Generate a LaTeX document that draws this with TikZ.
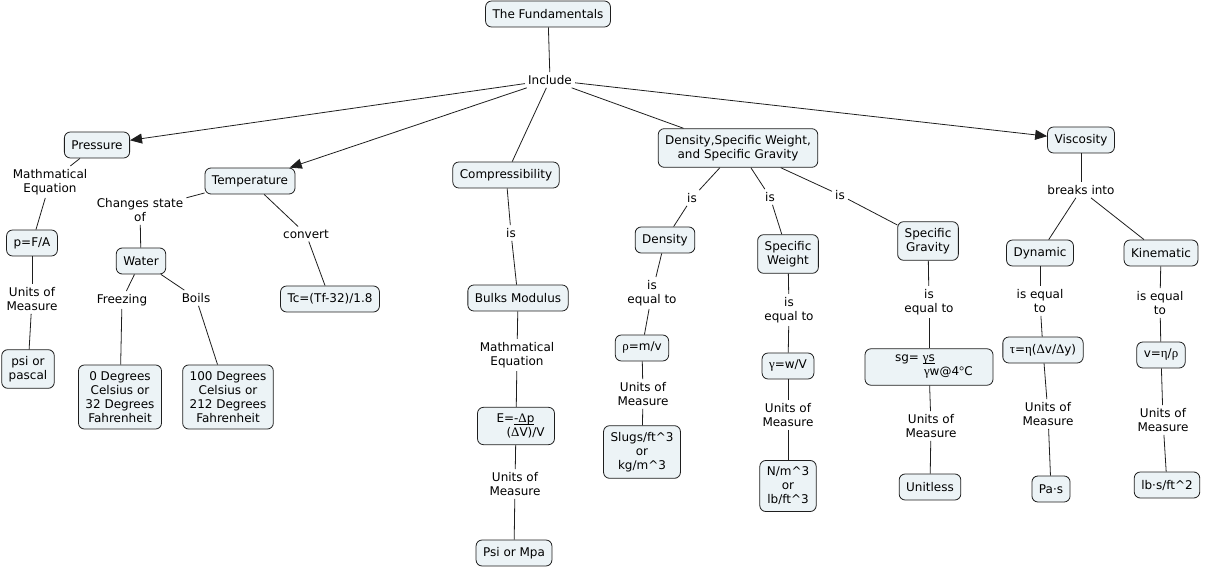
\documentclass[tikz,border=0pt]{standalone}
\usepackage{fontspec}
\setmainfont{DejaVu Sans}
\newfontfamily\gk[Scale=1.08]{Liberation Serif}
\usetikzlibrary{arrows.meta}
\definecolor{cfill}{RGB}{236,243,246}
\definecolor{cline}{RGB}{30,30,30}
\newcommand{\myul}[1]{\setbox0\hbox{#1}\rlap{\rule[-1.6pt]{\wd0}{0.6pt}}\box0}
\tikzset{
  concept/.style={draw=cline, line width=0.8pt, fill=cfill, rounded corners=6pt,
    inner xsep=7pt, inner ysep=6.5pt, minimum height=26pt, align=center},
  lbl/.style={inner sep=3pt, align=center},
  link/.style={draw=cline, line width=0.8pt},
  arr/.style={link, -{Triangle[length=12pt,width=10pt]}}
}
\begin{document}
\begin{tikzpicture}[x=1pt,y=-1pt,font=\fontsize{12}{14}\selectfont]
\useasboundingbox (0,0) rectangle (1205,569);
% top
\node[concept] (fund) at (548,14) {The Fundamentals};
\node[lbl] (incl) at (550,80) {Include};
% Pressure
\node[concept] (pres) at (97,145) {Pressure};
\node[lbl] (pmeq) at (50,182) {Mathmatical\\Equation};
\node[concept] (pfa) at (32,243) {p=F/A};
\node[lbl] (pum) at (32,299) {Units of\\Measure};
\node[concept] (psi) at (28,369) {psi or\\pascal};
% Temperature
\node[concept] (temp) at (250,181) {Temperature};
\node[lbl] (tchg) at (140,210) {Changes state\\of};
\node[concept] (water) at (141,261) {Water};
\node[lbl] (frz) at (122,300) {Freezing};
\node[lbl] (boil) at (196,298) {Boils};
\node[concept] (zero) at (120,397) {0 Degrees\\Celsius or\\32 Degrees\\Fahrenheit};
\node[concept] (hund) at (228,397) {100 Degrees\\Celsius or\\212 Degrees\\Fahrenheit};
\node[lbl] (conv) at (306,234) {convert};
\node[concept] (tc) at (330,299) {Tc=(Tf-32)/1.8};
% Compressibility
\node[concept] (comp) at (506,175) {Compressibility};
\node[lbl] (cis) at (511,233) {is};
\node[concept] (bulk) at (518,298) {Bulks Modulus};
\node[lbl] (bmeq) at (517,355) {Mathmatical\\Equation};
\node[concept, text width=63pt, inner xsep=7pt, align=left] (emod) at (516,426)
  {\hspace*{12pt}E=\myul{-{\gk Δ}p}\\\hspace*{22pt}({\gk Δ}V)/V};
\node[lbl] (eum) at (515,484) {Units of\\Measure};
\node[concept] (mpa) at (514,553) {Psi or Mpa};
% Density group
\node[concept] (dsg) at (738,148) {Density,Specific Weight,\\and Specific Gravity};
\node[lbl] (dis1) at (692,198) {is};
\node[lbl] (dis2) at (770,197) {is};
\node[lbl] (dis3) at (840,195) {is};
\node[concept] (dens) at (665,240) {Density};
\node[lbl] (deq) at (652,293) {is\\equal to};
\node[concept] (rho) at (642,348) {{\gk ρ}=m/v};
\node[lbl] (rum) at (643,394) {Units of\\Measure};
\node[concept] (slug) at (642,452) {Slugs/ft\textasciicircum3\\or\\kg/m\textasciicircum3};
\node[concept] (sw) at (788,254) {Specific\\Weight};
\node[lbl] (sweq) at (789,310) {is\\equal to};
\node[concept] (gam) at (788,366) {{\gk γ}=w/V};
\node[lbl] (gum) at (788,415) {Units of\\Measure};
\node[concept] (nm) at (788,486) {N/m\textasciicircum3\\or\\lb/ft\textasciicircum3};
\node[concept] (sgr) at (928,241) {Specific\\Gravity};
\node[lbl] (sgeq) at (929,302) {is\\equal to};
\node[concept, text width=114pt, align=left] (sg) at (929,367)
  {\hspace*{23pt}sg= \myul{{\gk γ}s}\\\hspace*{52pt}{\gk γ}w@4{\gk °}C};
\node[lbl] (sgum) at (931,426) {Units of\\Measure};
\node[concept] (unitless) at (930,487) {Unitless};
% Viscosity
\node[concept] (visc) at (1081,140) {Viscosity};
\node[lbl] (brk) at (1081,190) {breaks into};
\node[concept] (dyn) at (1040,253) {Dynamic};
\node[lbl] (dyeq) at (1040,301) {is equal\\to};
\node[concept] (tau) at (1043,350) {{\gk τ}={\gk η}({\gk Δ}v/{\gk Δ}y)};
\node[lbl] (dum) at (1048,414) {Units of\\Measure};
\node[concept] (pas) at (1051,489) {Pa·s};
\node[concept] (kin) at (1161,253) {Kinematic};
\node[lbl] (kieq) at (1160,303) {is equal\\to};
\node[concept] (nu) at (1161,355) {v={\gk η}/{\gk ρ}};
\node[lbl] (kum) at (1163,420) {Units of\\Measure};
\node[concept] (lbs) at (1167,485) {lb·s/ft\textasciicircum2};
% connectors
\draw[link] (fund) -- (incl);
\draw[arr] (incl) -- (pres);
\draw[arr] (incl) -- (temp);
\draw[link] (incl) -- (comp);
\draw[link] (incl) -- (dsg);
\draw[arr] (incl) -- (visc);
\draw[link] (pres) -- (pmeq);
\draw[link] (pmeq) -- (pfa);
\draw[link] (pfa) -- (pum);
\draw[link] (pum) -- (psi);
\draw[link] (temp) -- (tchg);
\draw[link] (tchg) -- (water);
\draw[link] (water) -- (frz);
\draw[link] (frz) -- (zero);
\draw[link] (water) -- (boil);
\draw[link] (boil) -- (hund);
\draw[link] (temp) -- (conv);
\draw[link] (conv) -- (tc);
\draw[link] (comp) -- (cis);
\draw[link] (cis) -- (bulk);
\draw[link] (bulk) -- (bmeq);
\draw[link] (bmeq) -- (emod);
\draw[link] (emod) -- (eum);
\draw[link] (eum) -- (mpa);
\draw[link] (dsg) -- (dis1);
\draw[link] (dis1) -- (dens);
\draw[link] (dens) -- (deq);
\draw[link] (deq) -- (rho);
\draw[link] (rho) -- (rum);
\draw[link] (rum) -- (slug);
\draw[link] (dsg) -- (dis2);
\draw[link] (dis2) -- (sw);
\draw[link] (sw) -- (sweq);
\draw[link] (sweq) -- (gam);
\draw[link] (gam) -- (gum);
\draw[link] (gum) -- (nm);
\draw[link] (dsg) -- (dis3);
\draw[link] (dis3) -- (sgr);
\draw[link] (sgr) -- (sgeq);
\draw[link] (sgeq) -- (sg);
\draw[link] (sg) -- (sgum);
\draw[link] (sgum) -- (unitless);
\draw[link] (visc) -- (brk);
\draw[link] (brk) -- (dyn);
\draw[link] (brk) -- (kin);
\draw[link] (dyn) -- (dyeq);
\draw[link] (dyeq) -- (tau);
\draw[link] (tau) -- (dum);
\draw[link] (dum) -- (pas);
\draw[link] (kin) -- (kieq);
\draw[link] (kieq) -- (nu);
\draw[link] (nu) -- (kum);
\draw[link] (kum) -- (lbs);
\end{tikzpicture}
\end{document}
